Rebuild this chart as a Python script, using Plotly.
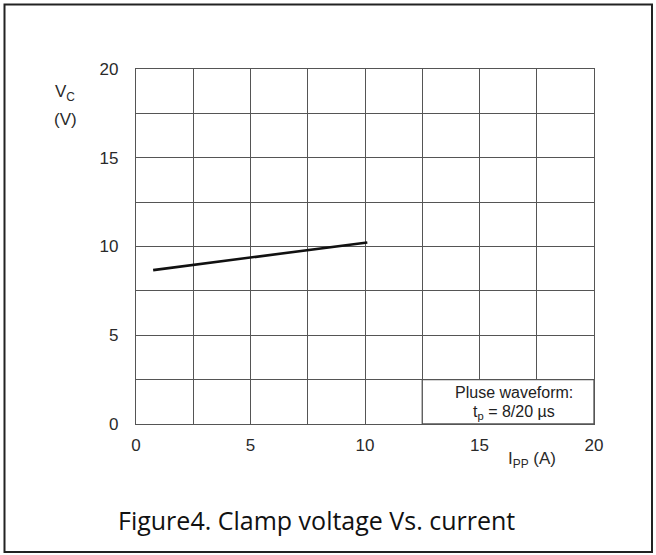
import plotly.graph_objects as go

# Data
current_a = [0.75, 10.1]
clamp_v = [8.67, 10.23]
x_ticks = [0, 5, 10, 15, 20]
y_ticks = [0, 5, 10, 15, 20]

W, H = 656, 555
ML, MR, MT, MB = 136, 62, 69, 131
PW = W - ML - MR
PH = H - MT - MB

def px(x):
    return (x - ML) / PW

def py(y):
    return (H - MB - y) / PH

GRID = "#555555"
FONT = "Liberation Sans, Arial, sans-serif"
TICKFONT = dict(family=FONT, size=17, color="#2a2a2a")

fig = go.Figure()
fig.add_trace(go.Scatter(
    x=current_a, y=clamp_v, mode="lines",
    line=dict(color="#111111", width=2.6),
    showlegend=False, hoverinfo="skip",
))

axis_common = dict(
    showgrid=True, gridcolor=GRID, gridwidth=1.3,
    showline=True, linecolor=GRID, linewidth=1.3, mirror=True,
    zeroline=False, ticks="", tickfont=TICKFONT, automargin=False,
    minor=dict(dtick=2.5, showgrid=True, gridcolor=GRID, gridwidth=1.3, ticks=""),
)
fig.update_xaxes(range=[0, 20], tickvals=x_ticks, ticklabelstandoff=5, **axis_common)
fig.update_yaxes(range=[0, 20], tickvals=y_ticks, ticklabelstandoff=13, **axis_common)

shapes = [
    dict(type="rect", xref="x", yref="y", x0=12.5, x1=20, y0=0, y1=2.5,
         fillcolor="white", line=dict(color=GRID, width=1.3), layer="above"),
    dict(type="rect", xref="paper", yref="paper",
         x0=px(4.5), x1=px(652), y0=py(552), y1=py(4.5),
         line=dict(color="#222222", width=2), fillcolor="rgba(0,0,0,0)"),
]

lab = dict(family=FONT, size=17, color="#2a2a2a")
annos = [
    dict(x=16.5, y=1.75, xref="x", yref="y", text="Pluse waveform:", showarrow=False,
         font=dict(family=FONT, size=16, color="#222222")),
    dict(x=16.5, y=0.65, xref="x", yref="y", text="t<sub>p</sub> = 8/20 µs", showarrow=False,
         font=dict(family=FONT, size=16, color="#222222")),
    dict(x=px(65), y=py(93), xref="paper", yref="paper", text="V<sub>C</sub>", showarrow=False,
         xanchor="center", yanchor="middle", font=lab),
    dict(x=px(65), y=py(119), xref="paper", yref="paper", text="(V)", showarrow=False,
         xanchor="center", yanchor="middle", font=lab),
    dict(x=px(532), y=py(460), xref="paper", yref="paper", text="I<sub>PP</sub> (A)", showarrow=False,
         xanchor="center", yanchor="middle", font=lab),
    dict(x=px(316), y=py(520), xref="paper", yref="paper",
         text="Figure4. Clamp voltage Vs. current", showarrow=False,
         xanchor="center", yanchor="middle",
         font=dict(family="Open Sans, sans-serif", size=25, color="#111111")),
]

fig.update_layout(
    width=W, height=H,
    margin=dict(l=ML, r=MR, t=MT, b=MB),
    paper_bgcolor="white", plot_bgcolor="white",
    shapes=shapes, annotations=annos,
    showlegend=False,
)

fig.write_html("out.html", config={"displayModeBar": False},
               post_script="document.body.style.margin='0px';")
